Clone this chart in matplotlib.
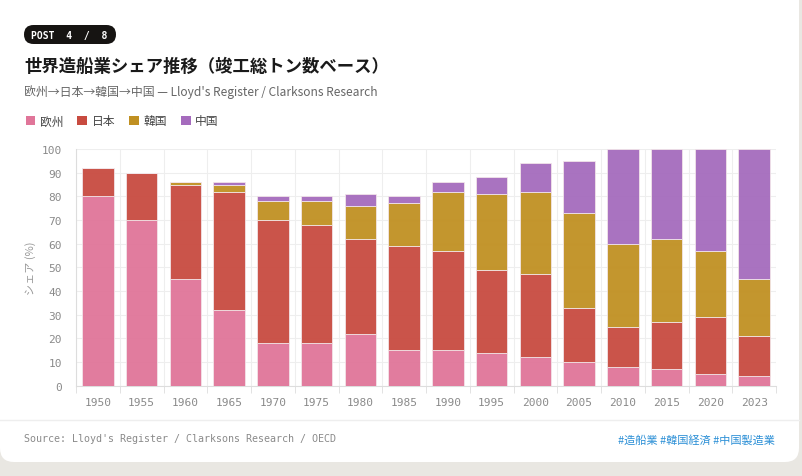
import matplotlib.pyplot as plt
import numpy as np
from matplotlib.patches import FancyBboxPatch, Patch
from matplotlib.lines import Line2D
from matplotlib.transforms import Affine2D

# shipbuilding share by region (% of completed gross tonnage)
years = ['1950', '1955', '1960', '1965', '1970', '1975', '1980', '1985',
         '1990', '1995', '2000', '2005', '2010', '2015', '2020', '2023']
europe = [80, 70, 45, 32, 18, 18, 22, 15, 15, 14, 12, 10, 8, 7, 5, 4]
japan = [12, 20, 40, 50, 52, 50, 40, 44, 42, 35, 35, 23, 17, 20, 24, 17]
korea = [0, 0, 1, 3, 8, 10, 14, 18, 25, 32, 35, 40, 35, 35, 28, 24]
china = [0, 0, 0, 1, 2, 2, 5, 3, 4, 7, 12, 22, 40, 38, 43, 55]
series_names = ['欧州', '日本', '韓国', '中国']
colors = ['#e07599', '#c84b40', '#c09022', '#a56bbd']

plt.rcParams['font.family'] = ['Noto Sans CJK JP', 'DejaVu Sans']
mono = ['DejaVu Sans Mono', 'Noto Sans CJK JP']

W, H = 803, 477
fig = plt.figure(figsize=(W / 100, H / 100), dpi=100)
fig.patch.set_facecolor('#e9e7e2')
px = Affine2D().scale(1 / 100) + fig.dpi_scale_trans  # pixel coords, origin bottom-left

# white card
card = FancyBboxPatch((0, H - 463), 799, 480,
                      boxstyle='round,pad=0,rounding_size=14',
                      transform=px, facecolor='white',
                      edgecolor='none', zorder=-5)
fig.patches.append(card)

# badge
badge = FancyBboxPatch((24, H - 45), 92, 19,
                       boxstyle='round,pad=0,rounding_size=9.5',
                       transform=px, facecolor='#161412',
                       edgecolor='none', zorder=2)
fig.patches.append(badge)
fig.text(69 / W, (H - 35.5) / H, 'POST  4  /  8', family=mono, fontsize=7,
         fontweight='bold', color='white', ha='center', va='center', zorder=3)

fig.text(24 / W, (H - 67) / H, '世界造船業シェア推移（竣工総トン数ベース）',
         fontsize=12.5, fontweight='bold', color='#1a1a1a', va='center')
fig.text(24 / W, (H - 92) / H,
         '欧州→日本→韓国→中国 — Lloyd\'s Register / Clarksons Research',
         fontsize=8.6, color='#666666', va='center')

ax = fig.add_axes([76 / W, (H - 386.7) / H, 700 / W, 236.7 / H])
ax.set_facecolor('none')
x = np.arange(len(years))
bottom = np.zeros(len(years))
handles = []
for vals, name, c in zip([europe, japan, korea, china], series_names, colors):
    ax.bar(x, vals, width=0.72, bottom=bottom, color=c, alpha=0.95,
           edgecolor='#f3e6ea', linewidth=0.6, zorder=3)
    bottom += np.array(vals)
    handles.append(Patch(facecolor=c, edgecolor='none', label=name))

ax.set_xlim(-0.5, len(years) - 0.5)
ax.set_ylim(0, 100)
ax.set_yticks(range(0, 101, 10))
ax.set_xticks(x)
ax.set_xticklabels(years)
ax.set_xticks(np.arange(-0.5, len(years), 1), minor=True)
ax.grid(axis='y', color='#eeeeee', linewidth=0.8, zorder=0)
ax.grid(axis='x', which='minor', color='#eeeeee', linewidth=0.8, zorder=0)
ax.tick_params(axis='x', which='major', length=0, pad=8, labelsize=8,
               labelcolor='#8a8a8a')
ax.tick_params(axis='x', which='minor', length=5, color='#dddddd')
ax.tick_params(axis='y', length=0, pad=10, labelsize=8, labelcolor='#8a8a8a')
for lab in ax.get_xticklabels() + ax.get_yticklabels():
    lab.set_family(mono)
for s in ['top', 'right']:
    ax.spines[s].set_visible(False)
for s in ['left', 'bottom']:
    ax.spines[s].set_color('#dddddd')
ax.set_ylabel('シェア (%)', fontsize=8, color='#999999', labelpad=4)

fig.legend(handles=handles, loc='center left',
           bbox_to_anchor=(15 / W, (H - 122) / H), ncol=4, frameon=False,
           fontsize=8.5, handlelength=0.8, handleheight=0.8,
           handletextpad=0.4, columnspacing=1.2, labelcolor='#444444')

# footer
fig.add_artist(Line2D([0, 799 / W], [(H - 421) / H] * 2, color='#eeeeee',
                      linewidth=1, transform=fig.transFigure))
fig.text(24 / W, (H - 439) / H,
         "Source: Lloyd's Register / Clarksons Research / OECD",
         family=mono, fontsize=7.2, color='#8a8a8a', va='center')
fig.text(775 / W, (H - 440) / H, '#造船業 #韓国経済 #中国製造業',
         fontsize=8, color='#2b8fd6', ha='right', va='center')

fig.savefig('out.png', dpi=100)
